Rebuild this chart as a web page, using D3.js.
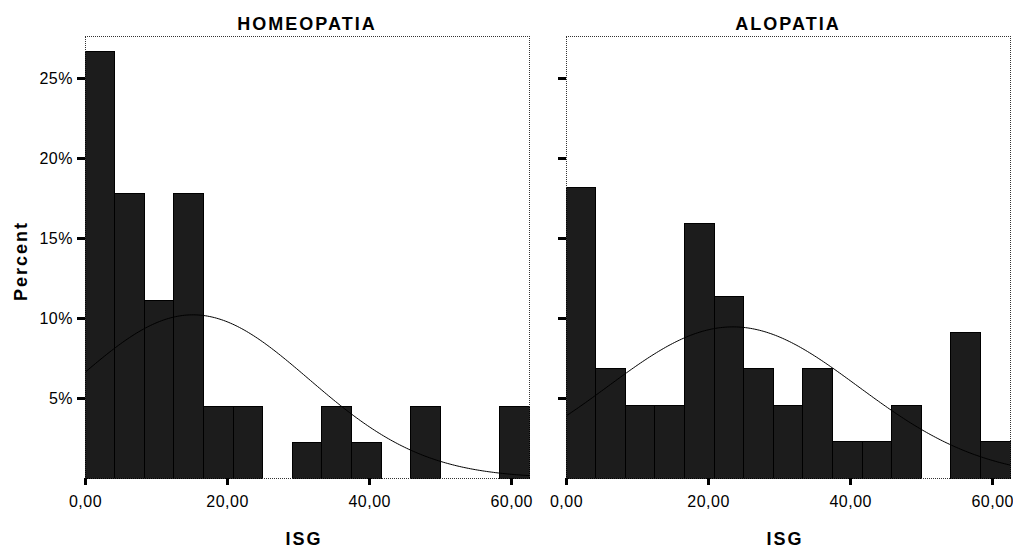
<!DOCTYPE html>
<html>
<head>
<meta charset="utf-8">
<script src="https://cdn.jsdelivr.net/npm/d3@7"></script>
<style>
  body { margin: 0; background: #fff; }
  text { font-family: "Liberation Sans", Arial, sans-serif; fill: #000; }
  .title, .axis-title { font-weight: bold; font-size: 18px; letter-spacing: 2px; }
  .tick text { font-size: 16px; letter-spacing: 0.5px; }
</style>
</head>
<body>
<svg id="chart" width="1013" height="549"></svg>
<script>

// ISG histogram data, percent of cases per bin (15 bins from 0 to 62,5)
var isgMax = 62.5;
var binCount = 15;
var panelNames = ["HOMEOPATIA", "ALOPATIA"];
var homeopatiaPct = [26.67, 17.78, 11.11, 17.78, 4.44, 4.44, 0, 2.22, 4.44, 2.22, 0, 4.44, 0, 0, 4.44];
var alopatiaPct = [18.18, 6.82, 4.55, 4.55, 15.91, 11.36, 6.82, 4.55, 6.82, 2.27, 2.27, 4.55, 0, 9.09, 2.27];

// fitted normal curves (mean, sd)
var homeopatiaFit = [15.2, 16.3];
var alopatiaFit = [23.5, 17.6];

var xTicks = [0, 20, 40, 60];
var yTicks = [5, 10, 15, 20, 25];
var yMax = 27.625;

var panels = [
    { name: panelNames[0], pct: homeopatiaPct, fit: homeopatiaFit, left: 85, right: 529, labels: true },
    { name: panelNames[1], pct: alopatiaPct, fit: alopatiaFit, left: 566, right: 1010, labels: false }
];

var plotTop = 36, plotBottom = 478;
var binWidth = isgMax / binCount;

var commaFmt = d3.formatLocale({ decimal: ",", thousands: ".", grouping: [3], currency: ["", ""] }).format(".2f");

var svg = d3.select("#chart");

var y = d3.scaleLinear().domain([0, yMax]).range([plotBottom, plotTop]);

panels.forEach(function(p, pi) {

    var x = d3.scaleLinear().domain([0, isgMax]).range([p.left, p.right]);
    var g = svg.append("g");

    var clipId = "clip" + pi;
    g.append("clipPath").attr("id", clipId)
      .append("rect")
        .attr("x", p.left).attr("y", plotTop)
        .attr("width", p.right - p.left).attr("height", plotBottom - plotTop);

    // bars
    g.selectAll("rect.bar")
        .data(p.pct.map(function(v, i) { return { i: i, v: v }; })
                   .filter(function(d) { return d.v > 0; }))
      .enter()
        .append("rect")
        .attr("class", "bar")
        .attr("x", function(d) { return x(d.i * binWidth); })
        .attr("width", function(d) { return x((d.i + 1) * binWidth) - x(d.i * binWidth); })
        .attr("y", function(d) { return y(d.v); })
        .attr("height", function(d) { return plotBottom - y(d.v); })
        .attr("fill", "#1c1c1c")
        .attr("stroke", "#000")
        .attr("stroke-width", 1)
        .attr("shape-rendering", "crispEdges");

    // normal curve
    var mean = p.fit[0], sd = p.fit[1];
    var pts = d3.range(0, isgMax + 0.01, 0.25).map(function(v) {
        var dens = Math.exp(-((v - mean) * (v - mean)) / (2 * sd * sd)) / (sd * Math.sqrt(2 * Math.PI));
        return [v, 100 * binWidth * dens];
    });
    g.append("path")
        .datum(pts)
        .attr("clip-path", "url(#" + clipId + ")")
        .attr("fill", "none")
        .attr("stroke", "#000")
        .attr("stroke-width", 1)
        .attr("d", d3.line()
            .x(function(d) { return x(d[0]); })
            .y(function(d) { return y(d[1]); }));

    // frame
    g.append("rect")
        .attr("x", p.left).attr("y", plotTop)
        .attr("width", p.right - p.left).attr("height", plotBottom - plotTop)
        .attr("fill", "none")
        .attr("stroke", "#333")
        .attr("stroke-dasharray", "1 1")
        .attr("shape-rendering", "crispEdges");

    // axes
    var xAxis = g.append("g")
        .attr("transform", "translate(0," + plotBottom + ")")
        .call(d3.axisBottom(x).tickValues(xTicks).tickSize(7).tickPadding(11)
            .tickFormat(function(d) { return commaFmt(d); }));

    var yAxis = g.append("g")
        .attr("transform", "translate(" + p.left + ",0)")
        .call(d3.axisLeft(y).tickValues(yTicks).tickSize(8).tickPadding(4)
            .tickFormat(function(d) { return p.labels ? d + "%" : ""; }));

    [xAxis, yAxis].forEach(function(a) {
        a.select(".domain").remove();
        a.selectAll(".tick line")
            .attr("stroke", "#000")
            .attr("stroke-width", 3)
            .attr("shape-rendering", "crispEdges");
        a.selectAll(".tick text").attr("fill", "#000");
    });

    // titles
    var cx = (p.left + p.right) / 2;
    g.append("text").attr("class", "title")
        .attr("x", cx).attr("y", 30)
        .attr("text-anchor", "middle")
        .text(p.name);

    g.append("text").attr("class", "axis-title")
        .attr("x", cx - 3).attr("y", 545)
        .attr("text-anchor", "middle")
        .text("ISG");
});

svg.append("text").attr("class", "axis-title")
    .attr("transform", "translate(27,261) rotate(-90)")
    .attr("text-anchor", "middle")
    .text("Percent");

</script>
</body>
</html>
